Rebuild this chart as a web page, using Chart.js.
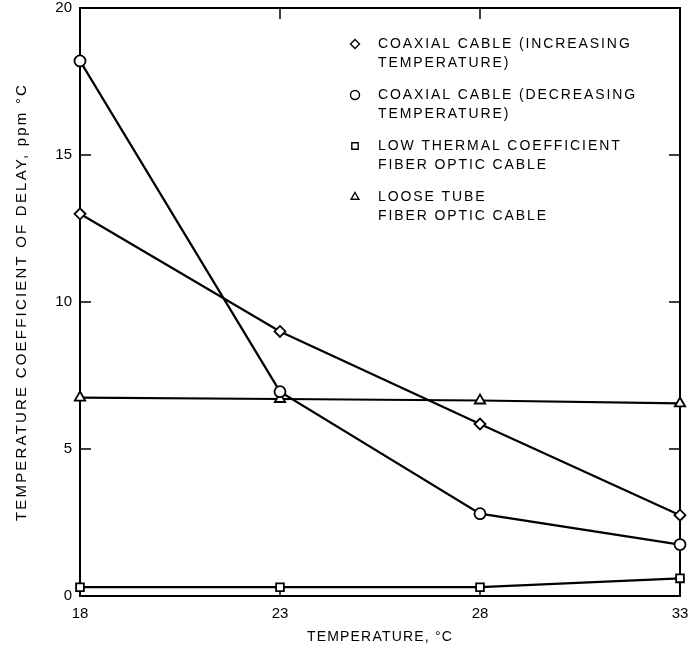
<!DOCTYPE html>
<html>
<head>
<meta charset="utf-8">
<script src="https://cdn.jsdelivr.net/npm/chart.js@4"></script>
<style>
  html, body { margin: 0; padding: 0; background: #fff; }
  #wrap { width: 688px; height: 655px; position: relative; }
</style>
</head>
<body>
<div id="wrap"><canvas id="delayChart"></canvas></div>
<script>
/* data */
const temps = [18, 23, 28, 33];
const coaxIncreasing = [13.0, 9.0, 5.85, 2.75];
const coaxDecreasing = [18.2, 6.95, 2.8, 1.75];
const lowThermalFiber = [0.3, 0.3, 0.3, 0.6];
const looseTubeFiber = [6.75, 6.7, 6.65, 6.55];

const xTicks = [18, 23, 28, 33];
const yTicks = [0, 5, 10, 15, 20];

const xTitle = "TEMPERATURE, °C";
const yTitle = "TEMPERATURE COEFFICIENT OF DELAY, ppm °C";
const legendLines = [
  ["COAXIAL CABLE (INCREASING", "TEMPERATURE)"],
  ["COAXIAL CABLE (DECREASING", "TEMPERATURE)"],
  ["LOW THERMAL COEFFICIENT", "FIBER OPTIC CABLE"],
  ["LOOSE TUBE", "FIBER OPTIC CABLE"]
];

const FONT = "'Liberation Sans', Arial, sans-serif";

function toPoints(values) {
  return temps.map((t, i) => ({ x: t, y: values[i] }));
}

function makeSet(label, values, style) {
  return {
    label: label,
    data: toPoints(values),
    borderColor: "#000",
    borderWidth: 2.2,
    pointStyle: style,
    pointRadius: style === "triangle" ? 6 : 5.5,
    pointBackgroundColor: "#fff",
    pointBorderColor: "#000",
    pointBorderWidth: 1.8,
    tension: 0,
    clip: false
  };
}

// box, inward ticks, titles and legend
const framePlugin = {
  id: "frame",
  beforeDatasetsDraw(chart) {
    const ctx = chart.ctx;
    const a = chart.chartArea;
    const xs = chart.scales.x;
    const ys = chart.scales.y;
    const len = 11;
    ctx.save();
    ctx.strokeStyle = "#000";
    ctx.lineWidth = 2;
    ctx.strokeRect(a.left, a.top, a.right - a.left, a.bottom - a.top);
    ctx.lineWidth = 1.5;
    xTicks.slice(1, -1).forEach((v) => {
      const px = xs.getPixelForValue(v);
      ctx.beginPath();
      ctx.moveTo(px, a.bottom); ctx.lineTo(px, a.bottom - len);
      ctx.moveTo(px, a.top); ctx.lineTo(px, a.top + len);
      ctx.stroke();
    });
    yTicks.slice(1, -1).forEach((v) => {
      const py = ys.getPixelForValue(v);
      ctx.beginPath();
      ctx.moveTo(a.left, py); ctx.lineTo(a.left + len, py);
      ctx.moveTo(a.right, py); ctx.lineTo(a.right - len, py);
      ctx.stroke();
    });

    // axis titles
    ctx.fillStyle = "#000";
    ctx.textAlign = "center";
    ctx.textBaseline = "middle";
    ctx.font = "14px " + FONT;
    ctx.letterSpacing = "1.2px";
    ctx.fillText(xTitle, (a.left + a.right) / 2, 637);
    ctx.save();
    ctx.translate(22, (a.top + a.bottom) / 2);
    ctx.rotate(-Math.PI / 2);
    ctx.font = "15px " + FONT;
    ctx.letterSpacing = "2.2px";
    ctx.fillText(yTitle, 0, 0);
    ctx.restore();
    ctx.restore();
  },
  afterDatasetsDraw(chart) {
    const ctx = chart.ctx;
    const markX = 355;
    const textX = 378;
    const rowTops = [44, 95, 146, 197];
    ctx.save();
    ctx.font = "14px " + FONT;
    ctx.letterSpacing = "1.9px";
    ctx.textAlign = "left";
    ctx.textBaseline = "middle";
    chart.data.datasets.forEach((ds, i) => {
      ctx.fillStyle = "#fff";
      ctx.strokeStyle = "#000";
      ctx.lineWidth = 1.4;
      Chart.helpers.drawPoint(ctx, {
        pointStyle: ds.pointStyle,
        radius: 4.5,
        borderWidth: 1.4
      }, markX, rowTops[i]);
      ctx.fillStyle = "#000";
      legendLines[i].forEach((line, j) => {
        ctx.fillText(line, textX, rowTops[i] + j * 19);
      });
    });
    ctx.restore();
  }
};

new Chart(document.getElementById("delayChart"), {
  type: "line",
  data: {
    datasets: [
      makeSet(legendLines[0].join(" "), coaxIncreasing, "rectRot"),
      makeSet(legendLines[1].join(" "), coaxDecreasing, "circle"),
      makeSet(legendLines[2].join(" "), lowThermalFiber, "rect"),
      makeSet(legendLines[3].join(" "), looseTubeFiber, "triangle")
    ]
  },
  options: {
    responsive: true,
    maintainAspectRatio: false,
    animation: false,
    layout: { padding: { top: 8, right: 8, left: 0, bottom: 0 } },
    plugins: {
      legend: { display: false },
      tooltip: { enabled: false }
    },
    scales: {
      x: {
        type: "linear",
        min: 18,
        max: 33,
        afterBuildTicks: (scale) => { scale.ticks = xTicks.map((v) => ({ value: v })); },
        afterFit: (scale) => {
          scale.height = 59;
          scale.paddingLeft = 0;
          scale.paddingRight = 0;
        },
        border: { display: false },
        grid: { display: false, drawTicks: false },
        ticks: {
          color: "#000",
          padding: 9,
          font: { family: FONT, size: 15 }
        }
      },
      y: {
        min: 0,
        max: 20,
        afterBuildTicks: (scale) => { scale.ticks = yTicks.map((v) => ({ value: v })); },
        afterFit: (scale) => {
          scale.width = 80;
          scale.paddingTop = 0;
          scale.paddingBottom = 0;
        },
        border: { display: false },
        grid: { display: false, drawTicks: false },
        ticks: {
          color: "#000",
          padding: 8,
          font: { family: FONT, size: 15 }
        }
      }
    }
  },
  plugins: [framePlugin]
});
</script>
</body>
</html>
